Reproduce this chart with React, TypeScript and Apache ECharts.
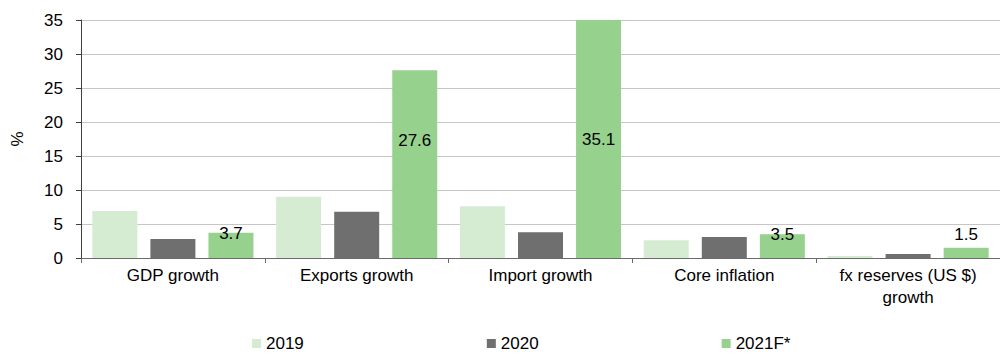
import React, { useEffect, useRef } from "react";
import * as echarts from "echarts";

const categories = ["GDP growth", "Exports growth", "Import growth", "Core inflation", "fx reserves (US $)\ngrowth"];
const seriesNames = ["2019", "2020", "2021F*"];
const values2019 = [6.9, 9.0, 7.6, 2.6, 0.3];
const values2020 = [2.8, 6.8, 3.8, 3.1, 0.6];
const values2021 = [3.7, 27.6, 35.1, 3.5, 1.5];
const yTicks = { min: 0, max: 35, interval: 5 };
const colors = ["#d5ecd3", "#6f6f6f", "#97d18e"];

const FONT = "Liberation Sans, Arial, sans-serif";

export default function App() {
  const ref = useRef<HTMLDivElement>(null);
  useEffect(() => {
    document.body.style.margin = "0";
    if (!ref.current) return;
    const chart = echarts.init(ref.current, null, { renderer: "svg" });
    const labelCfg = [
      { position: "top", distance: -9 },
      { position: "inside", offset: [0, -24] },
      { position: "inside" },
      { position: "top", distance: -9 },
      { position: "top", distance: 5 },
    ];
    const d2021 = values2021.map((v, i) => ({
      value: v,
      label: { show: true, ...labelCfg[i] },
    }));
    const baseBar = {
      type: "bar",
      barWidth: 45,
      barGap: "29%",
    };
    chart.setOption({
      animation: false,
      textStyle: { fontFamily: FONT, color: "#000" },
      grid: { left: 81, right: -6, top: 20, bottom: 96, containLabel: false },
      legend: {
        data: seriesNames,
        left: 247,
        top: 330,
        itemWidth: 9,
        itemHeight: 9,
        itemGap: 183,
        icon: "rect",
        textStyle: { fontSize: 17, fontFamily: FONT, color: "#000" },
      },
      xAxis: {
        type: "category",
        data: categories,
        boundaryGap: true,
        axisLine: { show: true, lineStyle: { color: "#6a6a6a", width: 1 } },
        axisTick: { show: true, length: 5, lineStyle: { color: "#6a6a6a" } },
        axisLabel: { fontSize: 17, color: "#000", fontFamily: FONT, margin: 6, lineHeight: 22, interval: 0 },
      },
      yAxis: {
        type: "value",
        min: yTicks.min,
        max: yTicks.max,
        interval: yTicks.interval,
        name: "%",
        nameLocation: "middle",
        nameGap: 55,
        nameRotate: 90,
        nameTextStyle: { fontSize: 17, color: "#000", fontFamily: FONT },
        axisLine: { show: true, lineStyle: { color: "#404040", width: 1 } },
        axisTick: { show: true, length: 5, lineStyle: { color: "#404040" } },
        axisLabel: { fontSize: 17, color: "#000", fontFamily: FONT, margin: 18 },
        splitLine: { show: true, lineStyle: { color: "#c6c6c6", width: 1.2 } },
      },
      series: [
        { ...baseBar, name: seriesNames[0], data: values2019, itemStyle: { color: colors[0] } },
        { ...baseBar, name: seriesNames[1], data: values2020, itemStyle: { color: colors[1] } },
        {
          ...baseBar,
          name: seriesNames[2],
          data: d2021,
          itemStyle: { color: colors[2] },
          label: { show: true, fontSize: 17, color: "#000", fontFamily: FONT },
        },
      ],
    });
    return () => chart.dispose();
  }, []);
  return <div ref={ref} style={{ width: 1000, height: 354 }} />;
}
